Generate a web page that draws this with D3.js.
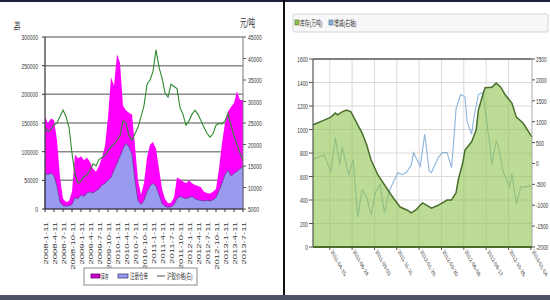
<!DOCTYPE html>
<html>
<head>
<meta charset="utf-8">
<script src="https://cdn.jsdelivr.net/npm/d3@7"></script>
<style>
body{margin:0;background:#fff;}
svg{display:block;font-family:"Liberation Sans","Noto Sans CJK SC",sans-serif;}
</style>
</head>
<body>
<script>
"use strict";

///////////
///// data
///////////

// left chart, one value per month 2008-01 .. 2013-07
var xLabels = ["2008-1-11","2008-4-11","2008-7-11","2008-10-11","2009-1-11","2009-4-11","2009-7-11","2009-10-11",
  "2010-1-11","2010-4-11","2010-7-11","2010-10-11","2011-1-11","2011-4-11","2011-7-11","2011-10-11",
  "2012-1-11","2012-4-11","2012-7-11","2012-10-11","2013-1-11","2013-4-11","2013-7-11"];

var stock = [160000,150000,158000,155000,120000,55000,18000,12000,14000,30000,
  95000,88000,92000,85000,90000,82000,70000,65000,75000,90000,
  110000,160000,230000,215000,270000,255000,180000,172000,168000,165000,
  110000,50000,25000,45000,90000,112000,117000,105000,70000,35000,
  18000,10000,11000,20000,55000,52000,48000,45000,50000,45000,
  42000,40000,38000,30000,28000,27000,30000,35000,70000,115000,
  150000,170000,178000,185000,205000,190000,190000];

var warrant = [62000,60000,63000,58000,40000,12000,6000,5000,6000,8000,
  20000,18000,25000,22000,28000,30000,28000,32000,35000,42000,
  45000,50000,55000,68000,80000,92000,105000,115000,108000,95000,
  50000,15000,8000,15000,30000,40000,45000,40000,25000,10000,
  5000,3000,4000,8000,18000,22000,20000,18000,20000,22000,
  18000,16000,15000,14000,15000,14000,16000,20000,32000,45000,
  60000,68000,58000,62000,66000,70000,75000];

var price = [24000,23000,23500,24500,25000,26500,28000,26500,24000,18000,
  13000,11000,11500,12500,13000,14000,15500,15000,16500,17000,
  17500,18500,19500,20000,21000,22000,25500,25000,22000,21000,
  22500,24000,26500,29000,34000,35000,37000,42000,38000,35500,
  32000,31000,34000,33500,33000,28600,27000,24500,25500,27000,
  28000,27000,25500,24000,22600,21700,22500,24500,24900,24800,
  25500,27200,24500,22000,20000,18000,16300];

var leftTicks = [0,50000,100000,150000,200000,250000,300000];
var rightTicks = [5000,10000,15000,20000,25000,30000,35000,40000,45000];
var legendL = ["库存","注册仓单","沪胶价格(右)"];

// right chart, week number -> value
var invWeek = [0,2,5,8,10,11,13,15,17,20,22,24,26,29,33,36,39,42,44,46,49,51,53,56,60,62,64,65,67,68,71,73,74,76,77,80,82,84,86,89,91,94,98];
var inv = [1040,1055,1080,1105,1140,1125,1150,1165,1150,1040,970,870,740,615,500,415,340,315,290,315,375,355,330,355,400,400,460,570,715,825,895,995,1165,1295,1355,1360,1395,1360,1295,1225,1105,1055,935];

var chgWeek = [0,5,8,10,12,13,16,18,20,22,24,26,28,30,32,34,36,38,40,42,44,45,48,50,52,53,56,58,60,62,63,64,66,68,69,71,72,74,76,77,79,80,82,83,85,88,89,91,93,95,98];
var chg = [100,210,-220,620,-30,400,-270,90,-1280,-630,-800,-1230,-680,-510,-1180,-680,-440,-220,-270,-200,-30,260,-70,700,-180,-220,140,260,260,-100,570,1300,1650,1600,1000,700,1100,1650,1700,1300,500,-20,530,400,-180,-560,-250,-970,-560,-560,-530];

var tickWeek = [7.5,17.5,27.5,37.5,47.5,57.5,67.5,77.5,87.5,97.5];
var tickLabel = ["2011-04-15","2011-06-24","2011-09-02","2011-11-11","2012-01-20","2012-03-30","2012-06-08","2012-08-17","2012-10-26","2013-01-04"];
var invTicks = [0,200,400,600,800,1000,1200,1400,1600];
var chgTicks = [-2000,-1500,-1000,-500,0,500,1000,1500,2000,2500];
var legendR = ["库存(万吨)","增减(右轴)"];

var W = 550, H = 300;
var svg = d3.select("body").append("svg").attr("width", W).attr("height", H);

svg.append("rect").attr("width", W).attr("height", H).attr("fill", "#fff");

// squeezed text, the picture is narrow
function label(g, x, y, s, o) {
  o = o || {};
  return g.append("text")
    .attr("transform", "translate(" + x + "," + y + ") scale(" + (o.sx || 0.62) + ",1)" + (o.rot ? " rotate(" + o.rot + ")" : ""))
    .attr("text-anchor", o.anchor || "start")
    .attr("font-size", o.size || 8)
    .attr("fill", o.fill || "#333")
    .text(s);
}

/////////////
///// left chart
/////////////
var gl = svg.append("g");
var xL = d3.scaleLinear().domain([0, stock.length - 1]).range([45, 243]);
var yL = d3.scaleLinear().domain([0, 300000]).range([209, 37]);
var yR = d3.scaleLinear().domain([5000, 45000]).range([209, 37]);

gl.selectAll(".grid").data(leftTicks.slice(1)).enter().append("line")
  .attr("x1", 45).attr("x2", 243)
  .attr("y1", d => yL(d)).attr("y2", d => yL(d))
  .attr("stroke", "#8a8a8a").attr("stroke-width", 1.5);

var area = d3.area().x((d, i) => xL(i)).y0(yL(0)).y1(d => yL(d));
gl.append("path").attr("d", area(stock)).attr("fill", "#ff00ff");
gl.append("path").attr("d", area(warrant)).attr("fill", "#9a9af0")
  .attr("stroke", "#5a3a8a").attr("stroke-width", 0.7);

var pline = d3.line().x((d, i) => xL(i)).y(d => yR(d));
gl.append("path").attr("d", pline(price)).attr("fill", "none")
  .attr("stroke", "#2e8b2e").attr("stroke-width", 1.1);

// axes
gl.append("line").attr("x1", 45).attr("x2", 45).attr("y1", 37).attr("y2", 209).attr("stroke", "#333").attr("stroke-width", 1.2);
gl.append("line").attr("x1", 243).attr("x2", 243).attr("y1", 37).attr("y2", 209).attr("stroke", "#777").attr("stroke-width", 1);
gl.append("line").attr("x1", 45).attr("x2", 243).attr("y1", 209).attr("y2", 209).attr("stroke", "#333").attr("stroke-width", 1.2);

leftTicks.forEach(t => {
  gl.append("line").attr("x1", 42).attr("x2", 45).attr("y1", yL(t)).attr("y2", yL(t)).attr("stroke", "#333");
  label(gl, 38, yL(t) + 3, t, {anchor: "end"});
});
rightTicks.forEach(t => {
  gl.append("line").attr("x1", 243).attr("x2", 246).attr("y1", yR(t)).attr("y2", yR(t)).attr("stroke", "#555");
  label(gl, 248, yR(t) + 3, t);
});
label(gl, 15, 26, "吨", {anchor: "middle", size: 10, sx: 0.6, rot: 90});
label(gl, 240, 27, "元/吨", {size: 11, sx: 0.6});

xLabels.forEach((s, i) => {
  var x = xL(i * 3);
  gl.append("line").attr("x1", x).attr("x2", x).attr("y1", 209).attr("y2", 212).attr("stroke", "#333");
  label(gl, x + 2.5, 222, s, {anchor: "end", size: 9.5, sx: 0.6, rot: -90});
});

// legend
var lg = gl.append("g");
lg.append("rect").attr("x", 84).attr("y", 268).attr("width", 113).attr("height", 17)
  .attr("fill", "#fff").attr("stroke", "#8a8a8a").attr("stroke-width", 1);
lg.append("rect").attr("x", 91).attr("y", 274).attr("width", 9).attr("height", 4).attr("fill", "#cc00cc").attr("stroke", "#660066").attr("stroke-width", 0.8);
label(lg, 101, 279, legendL[0], {size: 7, sx: 0.55});
lg.append("rect").attr("x", 118).attr("y", 274).attr("width", 10).attr("height", 4).attr("fill", "#9a9af0").attr("stroke", "#404080").attr("stroke-width", 0.8);
label(lg, 130, 279, legendL[1], {size: 7.5, sx: 0.6});
lg.append("line").attr("x1", 157).attr("x2", 165).attr("y1", 276).attr("y2", 276).attr("stroke", "#555").attr("stroke-width", 1);
label(lg, 167, 279, legendL[2], {size: 7.5, sx: 0.6});

/////////////
///// right chart
/////////////
var gr = svg.append("g");
var xW = d3.scaleLinear().domain([0, 98]).range([313, 532]);
var yI = d3.scaleLinear().domain([0, 1600]).range([247, 59]);
var yC = d3.scaleLinear().domain([-2000, 2500]).range([247, 59]);

gr.selectAll(".hg").data(invTicks.slice(1, -1)).enter().append("line")
  .attr("x1", 313).attr("x2", 532).attr("y1", d => yI(d)).attr("y2", d => yI(d))
  .attr("stroke", "#dadada").attr("stroke-width", 1);
gr.selectAll(".vg").data(tickWeek.slice(0, -1)).enter().append("line")
  .attr("x1", d => xW(d)).attr("x2", d => xW(d)).attr("y1", 59).attr("y2", 247)
  .attr("stroke", "#dadada").attr("stroke-width", 1);

var cline = d3.line().x((d, i) => xW(chgWeek[i])).y(d => yC(d));
gr.append("path").attr("d", cline(chg)).attr("fill", "none")
  .attr("stroke", "#8db5da").attr("stroke-width", 1.1);

var iarea = d3.area().x((d, i) => xW(invWeek[i])).y0(yI(0)).y1(d => yI(d));
var iline = d3.line().x((d, i) => xW(invWeek[i])).y(d => yI(d));
gr.append("path").attr("d", iarea(inv)).attr("fill", "#8fc44f").attr("fill-opacity", 0.6);
gr.append("path").attr("d", iline(inv)).attr("fill", "none").attr("stroke", "#4a6e2c").attr("stroke-width", 1.5);

gr.append("line").attr("x1", 313).attr("x2", 532).attr("y1", 59).attr("y2", 59).attr("stroke", "#555").attr("stroke-width", 1.5);
gr.append("line").attr("x1", 313).attr("x2", 313).attr("y1", 59).attr("y2", 247).attr("stroke", "#555").attr("stroke-width", 1.2);
gr.append("line").attr("x1", 532).attr("x2", 532).attr("y1", 59).attr("y2", 247).attr("stroke", "#aaa").attr("stroke-width", 1);
gr.append("line").attr("x1", 313).attr("x2", 532).attr("y1", 247).attr("y2", 247).attr("stroke", "#4a6e2c").attr("stroke-width", 1.8);

invTicks.forEach(t => {
  gr.append("line").attr("x1", 309).attr("x2", 313).attr("y1", yI(t)).attr("y2", yI(t)).attr("stroke", "#555");
  label(gr, 308, yI(t) + 3, t, {anchor: "end", sx: 0.6});
});
chgTicks.forEach(t => {
  gr.append("line").attr("x1", 532).attr("x2", 535).attr("y1", yC(t)).attr("y2", yC(t)).attr("stroke", "#555");
  label(gr, 536, yC(t) + 3, t, {sx: 0.6});
});
tickWeek.forEach((w, i) => {
  var x = xW(w);
  gr.append("line").attr("x1", x).attr("x2", x).attr("y1", 247).attr("y2", 250).attr("stroke", "#555");
  label(gr, x + 1, 252, tickLabel[i], {size: 7, sx: 0.55, rot: 45});
});

// legend strip
gr.append("rect").attr("x", 293).attr("y", 14).attr("width", 255).attr("height", 18).attr("rx", 2)
  .attr("fill", "#f8f8f8").attr("stroke", "#d4d4d4");
gr.append("rect").attr("x", 295).attr("y", 20).attr("width", 4).attr("height", 5).attr("fill", "#8fc44f").attr("stroke", "#4a6e2c").attr("stroke-width", 0.6);
label(gr, 300, 26, legendR[0], {sx: 0.6});
gr.append("rect").attr("x", 329).attr("y", 20).attr("width", 4).attr("height", 5).attr("fill", "#8db5da").attr("stroke", "#4a6a90").attr("stroke-width", 0.6);
label(gr, 334, 26, legendR[1], {sx: 0.6});

/////////////
///// frame
/////////////
svg.append("rect").attr("x", 0).attr("y", 0).attr("width", W).attr("height", 2).attr("fill", "#1c1f3a");
svg.append("rect").attr("x", 283).attr("y", 0).attr("width", 2).attr("height", 295).attr("fill", "#111");
svg.append("rect").attr("x", 0).attr("y", 295).attr("width", W).attr("height", 5).attr("fill", "#4d5468");
</script>
</body>
</html>
